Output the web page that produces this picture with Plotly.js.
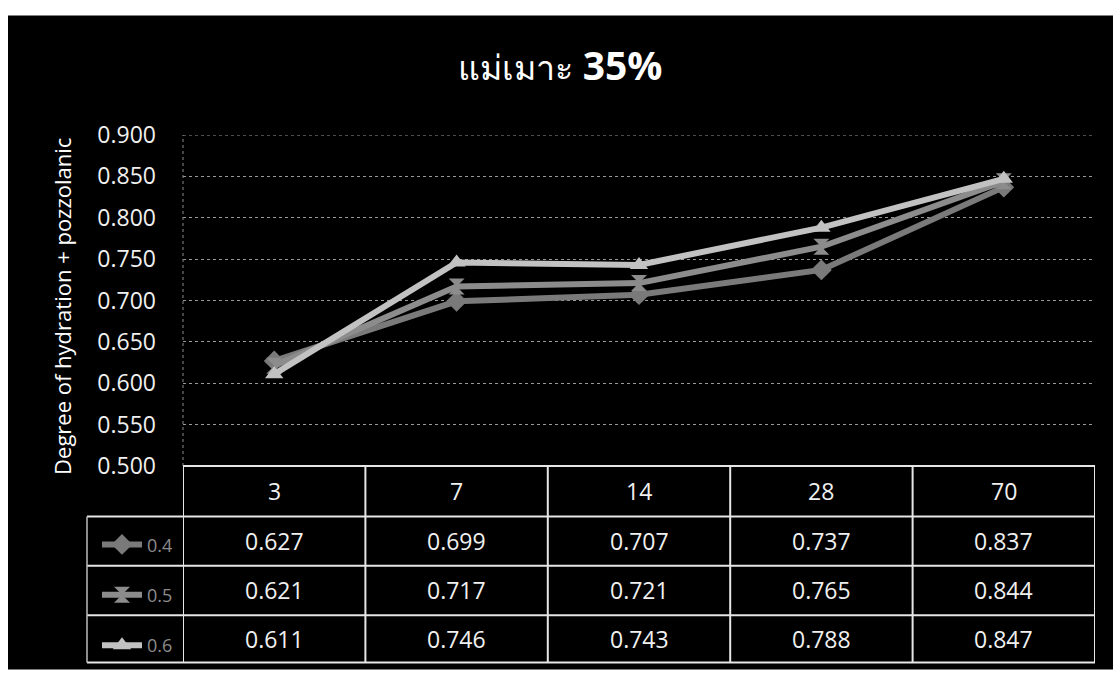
<!DOCTYPE html>
<html>
<head>
<meta charset="utf-8">
<script src="https://cdn.plot.ly/plotly-3.0.1.min.js"></script>
<style>
  html, body { margin: 0; padding: 0; background: #ffffff; }
  #chart { width: 1113px; height: 676px; }
</style>
</head>
<body>
<div id="chart"></div>
<script>
// Curing age (days) and degree of hydration + pozzolanic reaction per w/b ratio
const ages = ['3', '7', '14', '28', '70'];
const seriesNames = ['0.4', '0.5', '0.6'];
const values04 = [0.627, 0.699, 0.707, 0.737, 0.837];
const values05 = [0.621, 0.717, 0.721, 0.765, 0.844];
const values06 = [0.611, 0.746, 0.743, 0.788, 0.847];
const yTicks = [0.500, 0.550, 0.600, 0.650, 0.700, 0.750, 0.800, 0.850, 0.900];

const allValues = [values04, values05, values06];
const lineColors = ['#7a7a7a', '#8c8c8c', '#c2c2c2'];
const symbols = ['diamond', 'hourglass', 'triangle-up'];

// Page geometry (pixels) -> paper coordinates
const W = 1113, H = 676;
const PL = 183, PR = 1095, PT = 135, PB = 470;
const px = x => (x - PL) / (PR - PL);
const py = y => (PB - y) / (PB - PT);

// Data table rows below the plot
const rowLines = [521, 571, 621, 669];
const headerMid = (PB + rowLines[0]) / 2;
const rowMids = [0, 1, 2].map(i => (rowLines[i] + rowLines[i + 1]) / 2);

const traces = allValues.map((vals, i) => ({
  type: 'scatter',
  mode: 'lines+markers',
  name: seriesNames[i],
  legendgroup: 'g' + i,
  x: ages,
  y: vals,
  line: { color: lineColors[i], width: 6 },
  marker: { symbol: symbols[i], size: 16, color: lineColors[i], line: { width: 0 } },
  hoverinfo: 'x+y+name'
}));

const tableLine = { color: '#e6e6e6', width: 2 };
const shapes = [];
// dark panel
shapes.push({ type: 'rect', xref: 'paper', yref: 'paper', layer: 'below',
  x0: px(8), x1: px(W), y0: py(H), y1: py(14),
  fillcolor: '#000000', line: { width: 0 } });
// plot-area left edge (dotted)
shapes.push({ type: 'line', xref: 'paper', yref: 'paper', x0: 0, x1: 0, y0: 0, y1: 1,
  line: { color: '#8a8a8a', width: 1, dash: 'dot' } });
// top gridline at 0.900
shapes.push({ type: 'line', xref: 'paper', yref: 'y', x0: 0, x1: 1,
  y0: yTicks[yTicks.length - 1], y1: yTicks[yTicks.length - 1],
  line: { color: '#9a9a9a', width: 1, dash: 'dot' } });
// header top line
shapes.push({ type: 'line', xref: 'x', yref: 'paper', x0: -0.5, x1: ages.length - 0.5,
  y0: 0, y1: 0, line: tableLine });
// row separators (extend over the legend column)
rowLines.forEach(r => shapes.push({ type: 'line', xref: 'paper', yref: 'paper',
  x0: px(87), x1: 1, y0: py(r), y1: py(r), line: tableLine }));
// column separators
for (let i = 0; i <= ages.length; i++) {
  shapes.push({ type: 'line', xref: 'x', yref: 'paper', x0: i - 0.5, x1: i - 0.5,
    y0: 0, y1: py(rowLines[rowLines.length - 1]), line: tableLine });
}
// legend column left border
shapes.push({ type: 'line', xref: 'paper', yref: 'paper', x0: px(87), x1: px(87),
  y0: py(rowLines[0]), y1: py(rowLines[rowLines.length - 1]),
  line: { color: '#bdbdbd', width: 1.5 } });

const cellFont = { family: 'Open Sans, sans-serif', size: 23, color: '#f0f0f0' };
const annotations = [];
ages.forEach((a, i) => {
  annotations.push({ xref: 'x', yref: 'paper', x: i, y: py(headerMid), text: a,
    showarrow: false, font: cellFont, xanchor: 'center', yanchor: 'middle' });
  allValues.forEach((vals, s) => {
    annotations.push({ xref: 'x', yref: 'paper', x: i, y: py(rowMids[s]),
      text: vals[i].toFixed(3), showarrow: false, font: cellFont,
      xanchor: 'center', yanchor: 'middle' });
  });
});
// vertical axis title
annotations.push({ xref: 'paper', yref: 'paper', x: px(62), y: py(309),
  text: 'Degree of hydration + pozzolanic', textangle: -90, showarrow: false,
  xanchor: 'center', yanchor: 'middle',
  font: { family: 'Open Sans, sans-serif', size: 22, color: '#ffffff' } });

const layout = {
  width: W, height: H,
  margin: { l: PL, r: W - PR, t: PT, b: H - PB, pad: 0 },
  paper_bgcolor: '#ffffff',
  plot_bgcolor: 'rgba(0,0,0,0)',
  font: { family: 'Open Sans, sans-serif', color: '#f0f0f0' },
  title: {
    text: '<span style="font-size:34px">แม่เมาะ</span> <b>35%</b>',
    font: { family: 'Open Sans, sans-serif', size: 39, color: '#ffffff' },
    x: 560 / W, xref: 'container', xanchor: 'center',
    y: 1 - 66 / H, yref: 'container', yanchor: 'middle'
  },
  xaxis: {
    type: 'category',
    range: [-0.5, ages.length - 0.5],
    showticklabels: false, showgrid: false, zeroline: false, showline: false, ticks: ''
  },
  yaxis: {
    range: [0.5, 0.9],
    tickvals: yTicks,
    tickformat: '.3f',
    tickfont: { family: 'Open Sans, sans-serif', size: 23, color: '#f0f0f0' },
    ticks: '',
    ticklabelstandoff: 26,
    showgrid: true, gridcolor: '#9a9a9a', gridwidth: 1, griddash: 'dot',
    zeroline: false, showline: false
  },
  showlegend: true,
  legend: {
    x: px(97), xanchor: 'left',
    y: py(531), yanchor: 'top',
    bgcolor: 'rgba(0,0,0,0)',
    font: { family: 'Open Sans, sans-serif', size: 18, color: '#8c8c8c' },
    traceorder: 'grouped',
    tracegroupgap: 24,
    itemwidth: 40
  },
  shapes: shapes,
  annotations: annotations
};

Plotly.newPlot('chart', traces, layout, { displayModeBar: false, staticPlot: true });
</script>
</body>
</html>
